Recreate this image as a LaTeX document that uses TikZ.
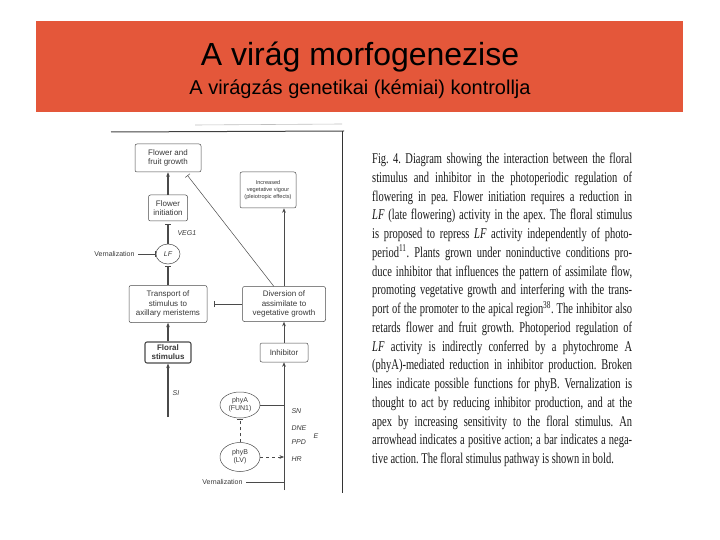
\documentclass[tikz,border=0pt]{standalone}
\usepackage{fontspec}
\setmainfont{Liberation Serif}
\setsansfont{Liberation Sans}
\usepackage{xcolor}
\usepackage{tikz}
\usetikzlibrary{arrows.meta,shapes.geometric}
\definecolor{hdrred}{HTML}{E4573A}
\definecolor{scanink}{HTML}{383838}
\definecolor{scanline}{HTML}{4A4A4A}
\tikzset{>={Stealth[length=4.5pt,width=3.6pt]},
  box/.style={draw=scanline,rounded corners=2pt,line width=0.5pt,align=center,text=scanink,inner sep=1pt,
    font=\sffamily\fontsize{8}{9.2}\selectfont},
  oval/.style={draw=scanline,ellipse,line width=0.5pt,align=center,text=scanink,inner sep=0pt,
    font=\sffamily\fontsize{7}{8.2}\selectfont},
  lnk/.style={draw=scanline,line width=0.5pt},
  boldlnk/.style={draw=scanline,line width=1.1pt},
  blocks/.style={-{Bar[width=6pt]}},
  gene/.style={text=scanink,font=\sffamily\itshape\fontsize{7}{8}\selectfont},
  lbl/.style={text=scanink,font=\sffamily\fontsize{7}{8}\selectfont}}

\begin{document}
\begin{tikzpicture}[x=1pt,y=-1pt]
\useasboundingbox (0,0) rectangle (720,540);

% ===== header band =====
\fill[hdrred] (36,21) rectangle (683,112);
\node[anchor=base,font=\sffamily\fontsize{32}{36}\selectfont] (title) at (360,66) {A virág morfogenezise};
\node[anchor=base,font=\sffamily\fontsize{20}{24}\selectfont] (subtitle) at (360,95) {A virágzás genetikai (kémiai) kontrollja};

% ===== scanned figure: frame =====
\draw[black!25,line width=0.6pt] (195,125) -- (342,124);
\draw[black!75,line width=1pt] (111,132) -- (344,131);
\draw[black!80,line width=0.8pt] (342,131) -- (342,493);

% ===== diagram nodes =====
\node[box,minimum width=66pt,minimum height=28pt] (fruit) at (168,158) {Flower and\\fruit growth};
\node[box,minimum width=56pt,minimum height=36pt,font=\sffamily\fontsize{5.6}{7}\selectfont] (vigour) at (268,190) {Increased\\vegetative vigour\\(pleiotropic effects)};
\node[box,minimum width=39pt,minimum height=26pt] (init) at (168,208) {Flower\\initiation};
\node[oval,minimum width=24pt,minimum height=20pt] (lf) at (168,254) {\itshape LF};
\node[box,minimum width=78pt,minimum height=37pt] (transport) at (168,304) {Transport of\\stimulus to\\axillary meristems};
\node[box,minimum width=83pt,minimum height=35pt] (diversion) at (284,304) {Diversion of\\assimilate to\\vegetative growth};
\node[box,line width=1.1pt,minimum width=46pt,minimum height=21pt,font=\sffamily\bfseries\fontsize{8}{9}\selectfont] (floral) at (168,352.5) {Floral\\stimulus};
\node[box,minimum width=48pt,minimum height=19pt] (inhibitor) at (284,352.5) {Inhibitor};
\node[oval,minimum width=40pt,minimum height=26pt] (phyA) at (240,405) {phyA\\(FUN1)};
\node[oval,minimum width=40pt,minimum height=29pt] (phyB) at (240,457) {phyB\\(LV)};
\node[lbl,anchor=east] (vern1) at (138,254) {Vernalization};
\node[lbl,anchor=east] (vern2) at (246,482) {Vernalization};
\coordinate (si) at (168,417);
\coordinate (base) at (284,490);

% labels
\node[gene,anchor=west] (veg) at (174,233) {VEG1};
\node[gene] (silbl) at (176,393) {SI};
\node[gene,anchor=west] (sn) at (288,411) {SN};
\node[gene,anchor=west] (dne) at (288,428) {DNE};
\node[gene,anchor=west] (ppd) at (288,442) {PPD};
\node[gene,anchor=west] (hr) at (288,459) {HR};
\node[gene] (elbl) at (316,436) {E};

% ===== connectors =====
% floral stimulus pathway (bold)
\draw[boldlnk,->] (si) -- (floral);
\draw[boldlnk,->] (floral) -- (transport);
\draw[boldlnk,blocks,shorten >=2pt] (transport) -- (lf);
\draw[boldlnk,blocks,shorten >=3pt] (lf) -- (init);
\draw[boldlnk,->] (init) -- (fruit);
% inhibitor side
\draw[lnk,->] (base) -- (inhibitor);
\draw[lnk,->] (inhibitor) -- (diversion);
\draw[lnk,->] (diversion.north) -- (diversion.north |- vigour.south);
\draw[lnk,blocks,shorten >=7pt] (diversion.west) -- (transport.east);
\draw[lnk,blocks,shorten >=4pt] (diversion.120) -- (fruit.-40);
\draw[lnk,blocks] (vern1) -- (lf);
% phytochromes and vernalization
\draw[lnk] (phyA.east) -- (phyA.east -| base);
\draw[lnk,dashed,->] (phyB.east) -- (phyB.east -| base);
\draw[lnk,dashed,blocks,shorten >=1pt] (phyB) -- (phyA);
\draw[lnk,blocks] (vern2) -- (vern2 -| base);

% ===== caption =====
\node[anchor=north west,inner sep=0pt,text=black!90] (caption) at (372,153) {\scalebox{1}[1.42]{\parbox{260pt}{\frenchspacing\fontsize{10.5}{13.2}\selectfont
Fig. 4. Diagram showing the interaction between the floral\linebreak
stimulus and inhibitor in the photoperiodic regulation of\linebreak
flowering in pea. Flower initiation requires a reduction in\linebreak
\textit{LF} (late flowering) activity in the apex. The floral stimulus\linebreak
is proposed to repress \textit{LF} activity independently of photo-\linebreak
period\textsuperscript{11}. Plants grown under noninductive conditions pro-\linebreak
duce inhibitor that influences the pattern of assimilate flow,\linebreak
promoting vegetative growth and interfering with the trans-\linebreak
port of the promoter to the apical region\textsuperscript{38}. The inhibitor also\linebreak
retards flower and fruit growth. Photoperiod regulation of\linebreak
\textit{LF} activity is indirectly conferred by a phytochrome A\linebreak
(phyA)-mediated reduction in inhibitor production. Broken\linebreak
lines indicate possible functions for phyB. Vernalization is\linebreak
thought to act by reducing inhibitor production, and at the\linebreak
apex by increasing sensitivity to the floral stimulus. An\linebreak
arrowhead indicates a positive action; a bar indicates a nega-\linebreak
tive action. The floral stimulus pathway is shown in bold.}}};

\end{tikzpicture}
\end{document}
